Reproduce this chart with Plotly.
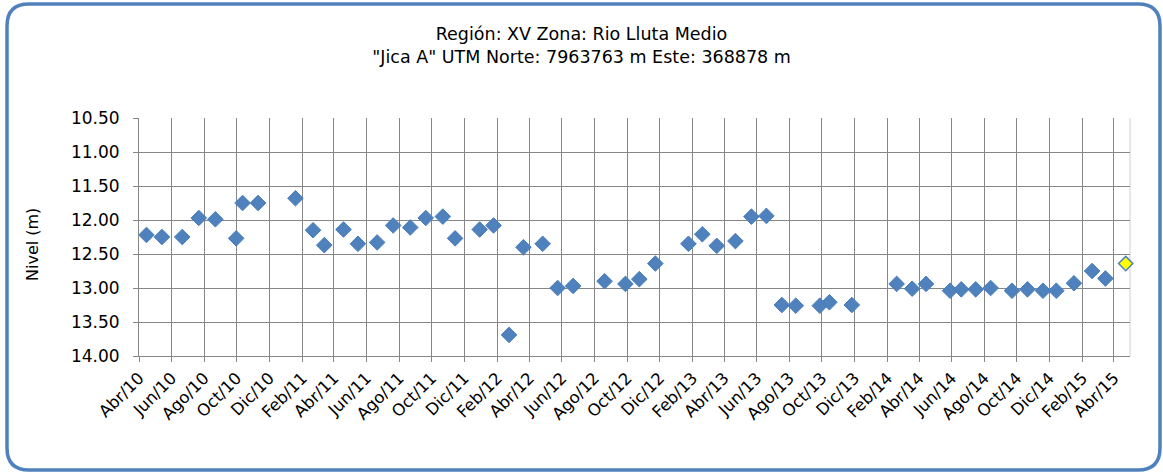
import plotly.graph_objects as go

# Monitoring well "Jica A" - groundwater level readings (m below reference)
fechas = [
    "2010-04-15", "2010-05-14", "2010-06-21", "2010-07-22", "2010-08-22",
    "2010-09-30", "2010-10-12", "2010-11-10", "2011-01-19", "2011-02-21",
    "2011-03-14", "2011-04-19", "2011-05-16", "2011-06-21", "2011-07-21",
    "2011-08-22", "2011-09-20", "2011-10-22", "2011-11-14", "2011-12-30",
    "2012-01-25", "2012-02-23", "2012-03-21", "2012-04-26", "2012-05-24",
    "2012-06-22", "2012-08-20", "2012-09-28", "2012-10-24", "2012-11-23",
    "2013-01-24", "2013-02-19", "2013-03-18", "2013-04-22", "2013-05-22",
    "2013-06-19", "2013-07-18", "2013-08-13", "2013-09-27", "2013-10-15",
    "2013-11-26", "2014-02-18", "2014-03-19", "2014-04-14", "2014-05-29",
    "2014-06-19", "2014-07-16", "2014-08-13", "2014-09-22", "2014-10-21",
    "2014-11-19", "2014-12-14", "2015-01-16", "2015-02-19", "2015-03-16",
]
nivel = [
    12.22, 12.25, 12.25, 11.97, 11.99,
    12.27, 11.75, 11.75, 11.68, 12.15,
    12.37, 12.14, 12.35, 12.33, 12.08,
    12.11, 11.97, 11.95, 12.27, 12.14,
    12.08, 13.69, 12.40, 12.35, 13.00,
    12.97, 12.90, 12.94, 12.87, 12.64,
    12.35, 12.21, 12.38, 12.31, 11.95,
    11.94, 13.25, 13.26, 13.26, 13.21,
    13.25, 12.94, 13.01, 12.94, 13.04,
    13.02, 13.02, 13.00, 13.04, 13.02,
    13.04, 13.04, 12.93, 12.75, 12.86,
]

# Latest reading, highlighted
fecha_ultima = ["2015-04-23"]
nivel_ultima = [12.64]

# Bimonthly category ticks
tick_fechas = [
    "2010-04-01", "2010-06-01", "2010-08-01", "2010-10-01", "2010-12-01",
    "2011-02-01", "2011-04-01", "2011-06-01", "2011-08-01", "2011-10-01",
    "2011-12-01", "2012-02-01", "2012-04-01", "2012-06-01", "2012-08-01",
    "2012-10-01", "2012-12-01", "2013-02-01", "2013-04-01", "2013-06-01",
    "2013-08-01", "2013-10-01", "2013-12-01", "2014-02-01", "2014-04-01",
    "2014-06-01", "2014-08-01", "2014-10-01", "2014-12-01", "2015-02-01",
    "2015-04-01",
]
tick_textos = [
    "Abr/10", "Jun/10", "Ago/10", "Oct/10", "Dic/10",
    "Feb/11", "Abr/11", "Jun/11", "Ago/11", "Oct/11",
    "Dic/11", "Feb/12", "Abr/12", "Jun/12", "Ago/12",
    "Oct/12", "Dic/12", "Feb/13", "Abr/13", "Jun/13",
    "Ago/13", "Oct/13", "Dic/13", "Feb/14", "Abr/14",
    "Jun/14", "Ago/14", "Oct/14", "Dic/14", "Feb/15",
    "Abr/15",
]
y_ticks = [10.5, 11.0, 11.5, 12.0, 12.5, 13.0, 13.5, 14.0]

W, H = 1163, 472
L, R, T, B = 139, 33, 118, 116
PW, PH = W - L - R, H - T - B

FONT = "DejaVu Sans, Verdana, sans-serif"
GRID = "#868686"
BLUE = "#4F81BD"

fig = go.Figure()
fig.add_trace(go.Scatter(
    x=fechas, y=nivel, mode="markers",
    marker=dict(symbol="diamond", size=12, color=BLUE,
                line=dict(color="#4A7EBB", width=1)),
    showlegend=False, cliponaxis=False,
))
fig.add_trace(go.Scatter(
    x=fecha_ultima, y=nivel_ultima, mode="markers",
    marker=dict(symbol="diamond", size=11, color="#FFFF00",
                line=dict(color=BLUE, width=1.5)),
    showlegend=False, cliponaxis=False,
))


def px_x(x):
    return (x - L) / PW


def px_y(y):
    return (H - B - y) / PH


# rounded frame around the whole chart
x0, x1, y0, y1, r = 7, 1160, 4, 470, 22
path = (
    f"M {px_x(x0 + r)},{px_y(y0)} L {px_x(x1 - r)},{px_y(y0)} "
    f"Q {px_x(x1)},{px_y(y0)} {px_x(x1)},{px_y(y0 + r)} "
    f"L {px_x(x1)},{px_y(y1 - r)} "
    f"Q {px_x(x1)},{px_y(y1)} {px_x(x1 - r)},{px_y(y1)} "
    f"L {px_x(x0 + r)},{px_y(y1)} "
    f"Q {px_x(x0)},{px_y(y1)} {px_x(x0)},{px_y(y1 - r)} "
    f"L {px_x(x0)},{px_y(y0 + r)} "
    f"Q {px_x(x0)},{px_y(y0)} {px_x(x0 + r)},{px_y(y0)} Z"
)
fig.add_shape(type="path", path=path, xref="paper", yref="paper",
              line=dict(color=BLUE, width=3.5), layer="above")
# faint right edge of the plot area
fig.add_shape(type="line", xref="paper", yref="paper", x0=1, x1=1, y0=0, y1=1,
              line=dict(color="#D0D0D0", width=1), layer="below")

# y-axis title
fig.add_annotation(
    text="Nivel (m)", xref="paper", yref="paper",
    x=px_x(32), y=px_y(245), xanchor="center", yanchor="middle",
    textangle=-90, showarrow=False,
    font=dict(family=FONT, size=16, color="#000000"),
)

fig.update_layout(
    width=W, height=H,
    margin=dict(l=L, r=R, t=T, b=B),
    paper_bgcolor="white", plot_bgcolor="white",
    font=dict(family=FONT, size=16, color="#000000"),
    title=dict(
        text="Región: XV Zona: Rio Lluta Medio<br>\"Jica A\" UTM Norte: 7963763 m Este: 368878 m",
        x=0.5, xref="container", xanchor="center",
        y=1 - 40 / H, yanchor="middle",
        font=dict(family=FONT, size=17.5, color="#000000"),
    ),
    xaxis=dict(
        type="date",
        range=["2010-04-01", "2015-05-01"],
        tickvals=tick_fechas, ticktext=tick_textos,
        tickangle=-45,
        tickfont=dict(family=FONT, size=16.5),
        showgrid=True, gridcolor=GRID, gridwidth=1,
        showline=True, linecolor=GRID, linewidth=1,
        ticks="outside", ticklen=5, tickcolor=GRID,
        zeroline=False,
    ),
    yaxis=dict(
        range=[14.0, 10.5],
        tickvals=y_ticks, tickformat=".2f",
        tickfont=dict(family=FONT, size=17),
        showgrid=True, gridcolor=GRID, gridwidth=1,
        showline=True, linecolor=GRID, linewidth=1,
        ticks="outside", ticklen=5, tickcolor=GRID,
        ticklabelstandoff=10,
        zeroline=False,
    ),
)

fig.write_html("out.html")
